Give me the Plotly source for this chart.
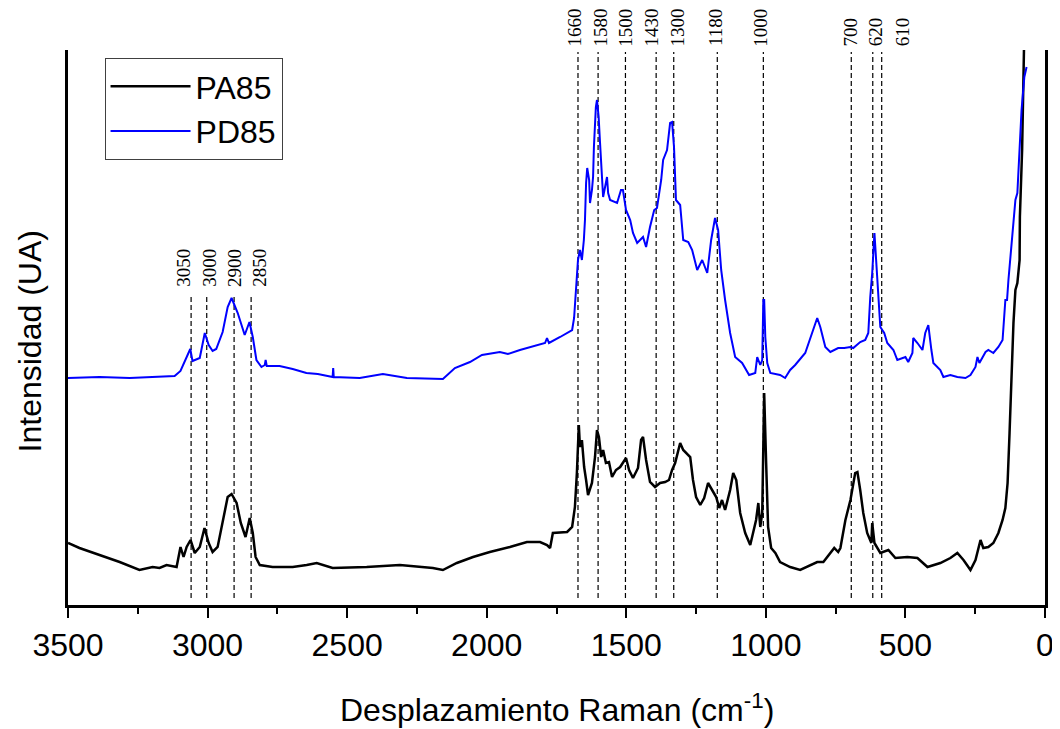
import plotly.graph_objects as go

# PA85 (black) spectrum: Raman shift (cm-1) and intensity (a.u.)
pa85_x = [3500, 3459, 3387, 3315, 3244, 3197, 3172, 3147, 3111, 3097, 3086, 3075, 3061, 3046, 3028, 3011, 2996, 2982, 2964, 2946,
          2928, 2914, 2896, 2881, 2864, 2849, 2838, 2828, 2813, 2767, 2695, 2645, 2609, 2552, 2430, 2311, 2193, 2157, 2107, 2049,
          1989, 1917, 1856, 1809, 1784, 1773, 1763, 1712, 1694, 1684, 1677, 1670, 1666, 1659, 1651, 1644, 1637, 1623, 1612, 1605,
          1598, 1590, 1583, 1573, 1562, 1551, 1537, 1522, 1512, 1501, 1490, 1476, 1458, 1447, 1440, 1429, 1415, 1397, 1379, 1361,
          1347, 1336, 1325, 1307, 1296, 1286, 1271, 1261, 1250, 1235, 1221, 1207, 1192, 1178, 1167, 1157, 1146, 1128, 1117, 1106,
          1092, 1074, 1056, 1045, 1035, 1027, 1020, 1013, 1009, 1006, 999, 992, 981, 966, 949, 913, 877, 841, 816, 794,
          776, 755, 741, 733, 715, 697, 680, 672, 662, 651, 637, 622, 619, 611, 590, 561, 536, 493, 457, 421,
          375, 339, 314, 292, 267, 249, 231, 221, 203, 185, 167, 152, 142, 134, 127, 120, 113, 106, 99, 91,
          90, 82, 77, 74]
pa85_y = [62, 57, 50, 43, 35, 38, 37, 40, 38, 58, 48, 58, 65, 52, 58, 77, 62, 53, 58, 82,
          108, 111, 102, 82, 68, 87, 72, 48, 40, 38, 38, 40, 42, 37, 38, 40, 37, 35, 42, 48,
          53, 58, 63, 63, 60, 57, 72, 73, 78, 98, 132, 180, 158, 165, 138, 125, 110, 122, 148, 175,
          168, 148, 155, 142, 143, 128, 135, 138, 143, 147, 135, 127, 137, 165, 168, 145, 123, 118, 122, 123,
          125, 135, 142, 162, 155, 152, 148, 125, 108, 100, 107, 122, 115, 108, 97, 105, 95, 115, 132, 125,
          92, 72, 60, 72, 85, 102, 78, 92, 192, 212, 142, 78, 57, 52, 43, 38, 35, 40, 43, 43,
          50, 57, 53, 57, 85, 105, 132, 133, 115, 92, 72, 62, 82, 62, 52, 55, 47, 48, 47, 38,
          42, 47, 52, 45, 35, 45, 65, 57, 58, 62, 72, 85, 97, 122, 172, 228, 282, 315, 322, 345,
          388, 455, 555, 575]

# PD85 (blue) spectrum
pd85_x = [3500, 3387, 3279, 3190, 3118, 3097, 3079, 3062, 3054, 3028, 3010, 2996, 2982, 2969, 2946, 2928, 2914, 2892, 2867, 2850,
          2838, 2825, 2807, 2795, 2792, 2788, 2742, 2695, 2646, 2605, 2552, 2550, 2548, 2455, 2372, 2286, 2157, 2114, 2060, 2017,
          1953, 1924, 1881, 1791, 1784, 1777, 1737, 1694, 1687, 1680, 1673, 1666, 1659, 1652, 1648, 1644, 1640, 1633, 1630, 1623,
          1619, 1616, 1609, 1605, 1599, 1594, 1588, 1583, 1576, 1569, 1565, 1558, 1533, 1519, 1512, 1501, 1486, 1476, 1461, 1440,
          1429, 1415, 1400, 1390, 1375, 1368, 1354, 1343, 1336, 1329, 1322, 1307, 1296, 1278, 1264, 1246, 1228, 1210, 1196, 1182,
          1171, 1160, 1146, 1128, 1110, 1085, 1060, 1038, 1031, 1020, 1013, 1009, 1006, 1002, 995, 984, 949, 931, 913, 895,
          859, 834, 816, 805, 787, 769, 741, 719, 697, 687, 662, 644, 633, 626, 619, 611, 604, 597, 590, 576,
          565, 543, 529, 500, 490, 475, 472, 457, 439, 429, 418, 407, 400, 375, 364, 339, 314, 285, 267, 249,
          242, 235, 224, 213, 203, 185, 167, 152, 142, 136, 131, 124, 117, 106, 99, 91, 84, 74, 66]
pd85_y = [227, 228, 227, 228, 229, 234, 245, 256, 244, 247, 272, 260, 254, 256, 273, 298, 307, 292, 270, 283,
          268, 245, 238, 240, 245, 239, 239, 236, 232, 231, 228, 237, 228, 227, 231, 227, 226, 237, 243, 250,
          253, 251, 255, 262, 267, 262, 268, 275, 287, 312, 345, 355, 345, 365, 385, 422, 437, 425, 402, 415,
          428, 458, 498, 505, 488, 462, 432, 408, 418, 428, 412, 405, 402, 415, 415, 395, 385, 372, 362, 368,
          358, 378, 395, 397, 425, 445, 455, 482, 483, 458, 405, 400, 365, 363, 355, 335, 345, 332, 365, 387,
          375, 335, 305, 272, 248, 242, 230, 232, 248, 240, 245, 305, 305, 268, 242, 232, 230, 227, 235, 240,
          252, 272, 287, 278, 258, 253, 257, 257, 258, 257, 263, 265, 272, 308, 332, 372, 338, 302, 278, 272,
          262, 255, 245, 248, 243, 252, 267, 262, 255, 272, 280, 255, 242, 235, 228, 230, 228, 227, 230, 238,
          248, 242, 248, 253, 255, 252, 258, 265, 305, 305, 325, 348, 372, 405, 412, 462, 495, 528, 538]

# Band markers
band_labels = ["3050", "3000", "2900", "2850", "1660", "1580", "1500", "1430", "1300", "1180", "1000", "700", "620", "610"]
band_line_x = [3059, 3003, 2905, 2844, 1673, 1601, 1503, 1393, 1330, 1174, 1009, 694, 617, 585]
band_label_x = [3086, 2996, 2906, 2817, 1684, 1594, 1504, 1408, 1318, 1182, 1020, 697, 608, 511]
band_line_top = [310, 310, 310, 310, 553, 553, 553, 553, 553, 553, 553, 553, 553, 553]
band_label_base = [0.571, 0.571, 0.571, 0.571, 1.0045, 1.0045, 1.0045, 1.0045, 1.0045, 1.0045, 1.0045, 1.0045, 1.0045, 1.0045]

fig = go.Figure()
fig.add_trace(go.Scatter(x=pa85_x, y=pa85_y, mode="lines", name="PA85",
                         line=dict(color="black", width=2.5)))
fig.add_trace(go.Scatter(x=pd85_x, y=pd85_y, mode="lines", name="PD85",
                         line=dict(color="#0000FF", width=2)))

for lx, top in zip(band_line_x, band_line_top):
    fig.add_shape(type="line", xref="x", yref="y", x0=lx, x1=lx, y0=7, y1=top,
                  line=dict(color="black", width=1.2, dash="5px,3px"), layer="below")

for lab, tx, ty in zip(band_labels, band_label_x, band_label_base):
    fig.add_annotation(x=tx, y=ty, xref="x", yref="paper", text=lab, showarrow=False,
                       textangle=-90, xanchor="center", yanchor="bottom", borderpad=0,
                       font=dict(family="Liberation Serif", size=19, color="black"))

fig.add_annotation(x=-0.0394, y=0.474, xref="paper", yref="paper", text="Intensidad (UA)",
                   showarrow=False, textangle=-90, xanchor="center", yanchor="middle",
                   font=dict(family="Liberation Sans", size=32, color="black"))

fig.add_annotation(x=0.5, y=-0.185, xref="paper", yref="paper",
                   text="Desplazamiento Raman (cm<sup>-1</sup>)",
                   showarrow=False, xanchor="center", yanchor="middle",
                   font=dict(family="Liberation Sans", size=32, color="black"))

fig.update_layout(
    width=1052, height=721,
    margin=dict(l=60, r=15, t=42, b=124, autoexpand=False),
    plot_bgcolor="white", paper_bgcolor="white",
    font=dict(family="Liberation Sans", size=32, color="black"),
    showlegend=True,
    legend=dict(x=0.0374, y=0.9856, xanchor="left", yanchor="top",
                bgcolor="white", bordercolor="#404040", borderwidth=1,
                font=dict(family="Liberation Sans", size=32, color="black"),
                itemwidth=80, tracegroupgap=0),
    xaxis=dict(range=[3500, 0], tickvals=[3500, 3000, 2500, 2000, 1500, 1000, 500, 0],
               ticktext=["3500", "3000", "2500", "2000", "1500", "1000", "500", "0"],
               ticks="outside", ticklen=10, tickwidth=2, tickcolor="black",
               minor=dict(dtick=250, ticks="outside", ticklen=6, tickwidth=2, tickcolor="black", showgrid=False),
               showline=True, linewidth=2.5, linecolor="black", mirror=False,
               showgrid=False, zeroline=False, automargin=False,
               tickfont=dict(family="Liberation Sans", size=32)),
    yaxis=dict(range=[0, 555], showticklabels=False, ticks="", automargin=False,
               showline=True, linewidth=2.5, linecolor="black", mirror=True,
               showgrid=False, zeroline=False),
)

fig.write_html("out.html")
